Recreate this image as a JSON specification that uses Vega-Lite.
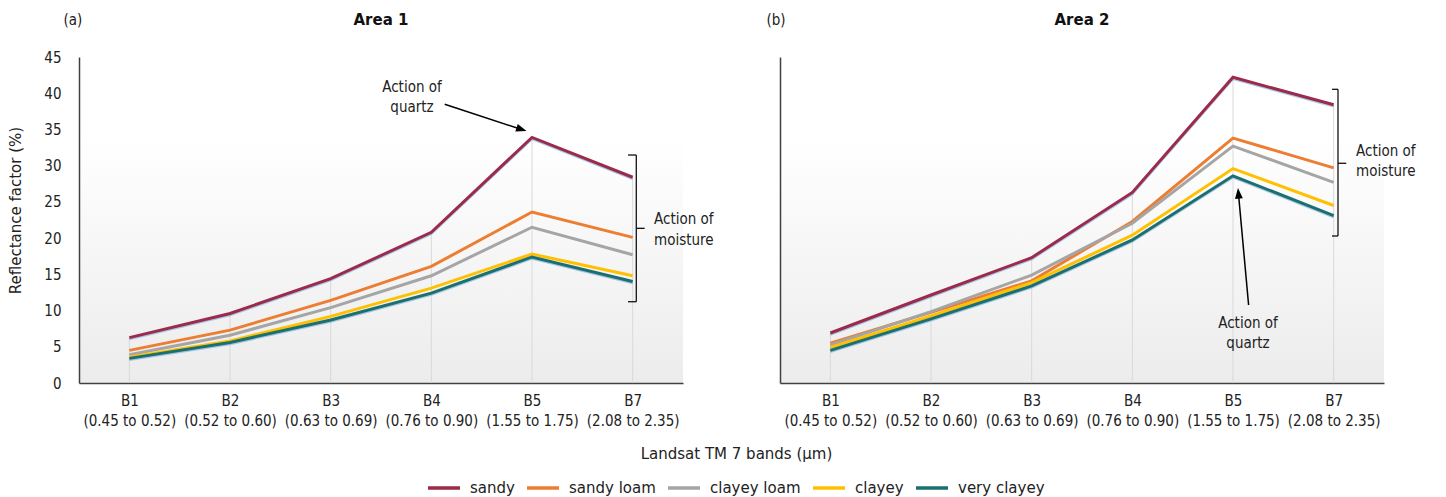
{
  "$schema": "https://vega.github.io/schema/vega-lite/v6.json",
  "background": "white",
  "padding": {"left": 8, "top": 12, "right": 5, "bottom": 5},
  "datasets": {
    "soil": [
      {"area": "Area 1", "soil": "sandy", "bi": 0, "value": 6.26},
      {"area": "Area 1", "soil": "sandy", "bi": 1, "value": 9.6},
      {"area": "Area 1", "soil": "sandy", "bi": 2, "value": 14.4},
      {"area": "Area 1", "soil": "sandy", "bi": 3, "value": 20.8},
      {"area": "Area 1", "soil": "sandy", "bi": 4, "value": 33.9},
      {"area": "Area 1", "soil": "sandy", "bi": 5, "value": 28.4},
      {"area": "Area 1", "soil": "sandy loam", "bi": 0, "value": 4.5},
      {"area": "Area 1", "soil": "sandy loam", "bi": 1, "value": 7.3},
      {"area": "Area 1", "soil": "sandy loam", "bi": 2, "value": 11.4},
      {"area": "Area 1", "soil": "sandy loam", "bi": 3, "value": 16.1},
      {"area": "Area 1", "soil": "sandy loam", "bi": 4, "value": 23.6},
      {"area": "Area 1", "soil": "sandy loam", "bi": 5, "value": 20.1},
      {"area": "Area 1", "soil": "clayey loam", "bi": 0, "value": 3.9},
      {"area": "Area 1", "soil": "clayey loam", "bi": 1, "value": 6.6},
      {"area": "Area 1", "soil": "clayey loam", "bi": 2, "value": 10.4},
      {"area": "Area 1", "soil": "clayey loam", "bi": 3, "value": 14.8},
      {"area": "Area 1", "soil": "clayey loam", "bi": 4, "value": 21.5},
      {"area": "Area 1", "soil": "clayey loam", "bi": 5, "value": 17.7},
      {"area": "Area 1", "soil": "clayey", "bi": 0, "value": 3.55},
      {"area": "Area 1", "soil": "clayey", "bi": 1, "value": 5.8},
      {"area": "Area 1", "soil": "clayey", "bi": 2, "value": 9.2},
      {"area": "Area 1", "soil": "clayey", "bi": 3, "value": 13.1},
      {"area": "Area 1", "soil": "clayey", "bi": 4, "value": 17.8},
      {"area": "Area 1", "soil": "clayey", "bi": 5, "value": 14.8},
      {"area": "Area 1", "soil": "very clayey", "bi": 0, "value": 3.4},
      {"area": "Area 1", "soil": "very clayey", "bi": 1, "value": 5.6},
      {"area": "Area 1", "soil": "very clayey", "bi": 2, "value": 8.7},
      {"area": "Area 1", "soil": "very clayey", "bi": 3, "value": 12.4},
      {"area": "Area 1", "soil": "very clayey", "bi": 4, "value": 17.4},
      {"area": "Area 1", "soil": "very clayey", "bi": 5, "value": 14.0},
      {"area": "Area 2", "soil": "sandy", "bi": 0, "value": 6.9},
      {"area": "Area 2", "soil": "sandy", "bi": 1, "value": 12.15},
      {"area": "Area 2", "soil": "sandy", "bi": 2, "value": 17.3},
      {"area": "Area 2", "soil": "sandy", "bi": 3, "value": 26.3},
      {"area": "Area 2", "soil": "sandy", "bi": 4, "value": 42.2},
      {"area": "Area 2", "soil": "sandy", "bi": 5, "value": 38.4},
      {"area": "Area 2", "soil": "sandy loam", "bi": 0, "value": 5.5},
      {"area": "Area 2", "soil": "sandy loam", "bi": 1, "value": 9.75},
      {"area": "Area 2", "soil": "sandy loam", "bi": 2, "value": 14.1},
      {"area": "Area 2", "soil": "sandy loam", "bi": 3, "value": 22.3},
      {"area": "Area 2", "soil": "sandy loam", "bi": 4, "value": 33.8},
      {"area": "Area 2", "soil": "sandy loam", "bi": 5, "value": 29.7},
      {"area": "Area 2", "soil": "clayey loam", "bi": 0, "value": 5.25},
      {"area": "Area 2", "soil": "clayey loam", "bi": 1, "value": 9.85},
      {"area": "Area 2", "soil": "clayey loam", "bi": 2, "value": 14.9},
      {"area": "Area 2", "soil": "clayey loam", "bi": 3, "value": 22.05},
      {"area": "Area 2", "soil": "clayey loam", "bi": 4, "value": 32.7},
      {"area": "Area 2", "soil": "clayey loam", "bi": 5, "value": 27.7},
      {"area": "Area 2", "soil": "clayey", "bi": 0, "value": 4.9},
      {"area": "Area 2", "soil": "clayey", "bi": 1, "value": 9.25},
      {"area": "Area 2", "soil": "clayey", "bi": 2, "value": 13.85},
      {"area": "Area 2", "soil": "clayey", "bi": 3, "value": 20.4},
      {"area": "Area 2", "soil": "clayey", "bi": 4, "value": 29.6},
      {"area": "Area 2", "soil": "clayey", "bi": 5, "value": 24.5},
      {"area": "Area 2", "soil": "very clayey", "bi": 0, "value": 4.5},
      {"area": "Area 2", "soil": "very clayey", "bi": 1, "value": 8.85},
      {"area": "Area 2", "soil": "very clayey", "bi": 2, "value": 13.4},
      {"area": "Area 2", "soil": "very clayey", "bi": 3, "value": 19.75},
      {"area": "Area 2", "soil": "very clayey", "bi": 4, "value": 28.6},
      {"area": "Area 2", "soil": "very clayey", "bi": 5, "value": 23.1}
    ],
    "ann": [
      {"area": "Area 1", "kind": "bracket", "bi": 5.036, "value": 31.47, "bi2": 5.036, "value2": 11.22},
      {"area": "Area 1", "kind": "bracket", "bi": 4.954, "value": 31.47, "bi2": 5.036, "value2": 31.47},
      {"area": "Area 1", "kind": "bracket", "bi": 4.954, "value": 11.22, "bi2": 5.036, "value2": 11.22},
      {"area": "Area 1", "kind": "bracket", "bi": 5.036, "value": 21.35, "bi2": 5.119, "value2": 21.35},
      {"area": "Area 2", "kind": "bracket", "bi": 5.043, "value": 40.54, "bi2": 5.043, "value2": 20.29},
      {"area": "Area 2", "kind": "bracket", "bi": 4.983, "value": 40.54, "bi2": 5.043, "value2": 40.54},
      {"area": "Area 2", "kind": "bracket", "bi": 4.983, "value": 20.29, "bi2": 5.043, "value2": 20.29},
      {"area": "Area 2", "kind": "bracket", "bi": 5.043, "value": 30.33, "bi2": 5.125, "value2": 30.33},
      {"area": "Area 1", "kind": "arrow", "bi": 3.133, "value": 38.47, "bi2": 3.896, "value2": 35.0},
      {"area": "Area 2", "kind": "arrow", "bi": 4.155, "value": 10.76, "bi2": 4.054, "value2": 26.18}
    ],
    "notes": [
      {"area": "Area 1", "kind": "quartz", "text": "Action of\nquartz", "bi": 2.808, "value": 40.86},
      {"area": "Area 1", "kind": "moisture", "text": "Action of\nmoisture", "bi": 5.212, "value": 22.64},
      {"area": "Area 2", "kind": "quartz", "text": "Action of\nquartz", "bi": 4.149, "value": 8.24},
      {"area": "Area 2", "kind": "moisture", "text": "Action of\nmoisture", "bi": 5.222, "value": 32.02},
      {"area": "Area 1", "kind": "tag", "text": "(a)", "bi": -0.56, "value": 50.11},
      {"area": "Area 2", "kind": "tag", "text": "(b)", "bi": -0.54, "value": 50.11},
      {"area": "Area 1", "kind": "title", "text": "Area 1", "bi": 2.5, "value": 50.11},
      {"area": "Area 2", "kind": "title", "text": "Area 2", "bi": 2.5, "value": 50.11}
    ]
  },
  "hconcat": [
    {
      "width": 604,
      "height": 326,
      "layer": [
        {
          "data": {"name": "soil"},
          "transform": [{"filter": "datum.area === 'Area 1'"}],
          "mark": {"type": "rule", "color": "#d9d9d9", "strokeWidth": 1},
          "encoding": {
            "x": {"field": "bi", "type": "quantitative", "scale": {"domain": [-0.5, 5.5], "nice": false, "zero": false},
              "axis": {"values": [0, 1, 2, 3, 4, 5], "labelExpr": "[['B1','(0.45 to 0.52)'],['B2','(0.52 to 0.60)'],['B3','(0.63 to 0.69)'],['B4','(0.76 to 0.90)'],['B5','(1.55 to 1.75)'],['B7','(2.08 to 2.35)']][datum.value]", "title": "Landsat TM 7 bands (µm)", "titleX": 657, "titleY": 70, "titleBaseline": "middle"}},
            "y": {"field": "value", "aggregate": "max", "type": "quantitative", "scale": {"domain": [0, 45], "nice": false},
              "axis": {"values": [0, 5, 10, 15, 20, 25, 30, 35, 40, 45], "tickCount": 10, "labelOverlap": false, "title": "Reflectance factor (%)", "titleY": 153}},
            "y2": {"datum": 0}
          }
        },
        {
          "data": {"name": "soil"},
          "transform": [{"filter": "datum.area === 'Area 1' && (datum.soil === 'sandy' || datum.soil === 'very clayey')"}],
          "mark": {"type": "line", "color": "#6fa8dc", "strokeWidth": 2.5, "yOffset": 1.5, "opacity": 0.6},
          "encoding": {
            "x": {"field": "bi", "type": "quantitative"},
            "y": {"field": "value", "type": "quantitative"},
            "detail": {"field": "soil", "type": "nominal"}
          }
        },
        {
          "data": {"name": "soil"},
          "transform": [{"filter": "datum.area === 'Area 1'"}],
          "mark": {"type": "line", "strokeWidth": 3},
          "encoding": {
            "x": {"field": "bi", "type": "quantitative"},
            "y": {"field": "value", "type": "quantitative"},
            "color": {"field": "soil", "type": "nominal",
              "scale": {"domain": ["sandy", "sandy loam", "clayey loam", "clayey", "very clayey"], "range": ["#9c2a4a", "#ed7d31", "#a5a5a5", "#ffc000", "#1b6f6e"]},
              "legend": {"title": null}}
          }
        },
        {
          "data": {"name": "ann"},
          "transform": [{"filter": "datum.area === 'Area 1' && datum.kind === 'bracket'"}],
          "mark": {"type": "rule", "color": "#111111", "strokeWidth": 1.3},
          "encoding": {
            "x": {"field": "bi", "type": "quantitative"},
            "x2": {"field": "bi2"},
            "y": {"field": "value", "type": "quantitative"},
            "y2": {"field": "value2"}
          }
        },
        {
          "data": {"name": "ann"},
          "transform": [{"filter": "datum.area === 'Area 1' && datum.kind === 'arrow'"}],
          "mark": {"type": "rule", "color": "#000000", "strokeWidth": 1.5},
          "encoding": {
            "x": {"field": "bi", "type": "quantitative"},
            "x2": {"field": "bi2"},
            "y": {"field": "value", "type": "quantitative"},
            "y2": {"field": "value2"}
          }
        },
        {
          "data": {"name": "ann"},
          "transform": [{"filter": "datum.area === 'Area 1' && datum.kind === 'arrow'"}],
          "mark": {"type": "point", "shape": "M0,-1L0.75,1L-0.75,1Z", "filled": true, "color": "#000000", "opacity": 1, "size": 110, "angle": 108},
          "encoding": {
            "x": {"field": "bi2", "type": "quantitative"},
            "y": {"field": "value2", "type": "quantitative"}
          }
        },
        {
          "data": {"name": "notes"},
          "transform": [{"filter": "datum.area === 'Area 1' && (datum.kind === 'quartz' || datum.kind === 'tag')"}],
          "mark": {"type": "text", "align": "center", "baseline": "middle", "lineBreak": "\n", "lineHeight": 20, "fontSize": 15, "font": "DejaVu Sans Condensed", "color": "#222222"},
          "encoding": {
            "x": {"field": "bi", "type": "quantitative"},
            "y": {"field": "value", "type": "quantitative"},
            "text": {"field": "text"}
          }
        },
        {
          "data": {"name": "notes"},
          "transform": [{"filter": "datum.area === 'Area 1' && datum.kind === 'moisture'"}],
          "mark": {"type": "text", "align": "left", "baseline": "middle", "lineBreak": "\n", "lineHeight": 21, "fontSize": 15, "font": "DejaVu Sans Condensed", "color": "#222222"},
          "encoding": {
            "x": {"field": "bi", "type": "quantitative"},
            "y": {"field": "value", "type": "quantitative"},
            "text": {"field": "text"}
          }
        },
        {
          "data": {"name": "notes"},
          "transform": [{"filter": "datum.area === 'Area 1' && datum.kind === 'title'"}],
          "mark": {"type": "text", "align": "center", "baseline": "middle", "fontSize": 15, "fontWeight": "bold", "font": "DejaVu Sans", "color": "#111111"},
          "encoding": {
            "x": {"field": "bi", "type": "quantitative"},
            "y": {"field": "value", "type": "quantitative"},
            "text": {"field": "text"}
          }
        }
      ]
    },
    {
      "width": 604,
      "height": 326,
      "layer": [
        {
          "data": {"name": "soil"},
          "transform": [{"filter": "datum.area === 'Area 2'"}],
          "mark": {"type": "rule", "color": "#d9d9d9", "strokeWidth": 1},
          "encoding": {
            "x": {"field": "bi", "type": "quantitative", "scale": {"domain": [-0.5, 5.5], "nice": false, "zero": false},
              "axis": {"values": [0, 1, 2, 3, 4, 5], "labelExpr": "[['B1','(0.45 to 0.52)'],['B2','(0.52 to 0.60)'],['B3','(0.63 to 0.69)'],['B4','(0.76 to 0.90)'],['B5','(1.55 to 1.75)'],['B7','(2.08 to 2.35)']][datum.value]", "title": null}},
            "y": {"field": "value", "aggregate": "max", "type": "quantitative", "scale": {"domain": [0, 45], "nice": false},
              "axis": {"labels": false, "title": null}},
            "y2": {"datum": 0}
          }
        },
        {
          "data": {"name": "soil"},
          "transform": [{"filter": "datum.area === 'Area 2' && (datum.soil === 'sandy' || datum.soil === 'very clayey')"}],
          "mark": {"type": "line", "color": "#6fa8dc", "strokeWidth": 2.5, "yOffset": 1.5, "opacity": 0.6},
          "encoding": {
            "x": {"field": "bi", "type": "quantitative"},
            "y": {"field": "value", "type": "quantitative"},
            "detail": {"field": "soil", "type": "nominal"}
          }
        },
        {
          "data": {"name": "soil"},
          "transform": [{"filter": "datum.area === 'Area 2'"}],
          "mark": {"type": "line", "strokeWidth": 3},
          "encoding": {
            "x": {"field": "bi", "type": "quantitative"},
            "y": {"field": "value", "type": "quantitative"},
            "color": {"field": "soil", "type": "nominal",
              "scale": {"domain": ["sandy", "sandy loam", "clayey loam", "clayey", "very clayey"], "range": ["#9c2a4a", "#ed7d31", "#a5a5a5", "#ffc000", "#1b6f6e"]},
              "legend": {"title": null}}
          }
        },
        {
          "data": {"name": "ann"},
          "transform": [{"filter": "datum.area === 'Area 2' && datum.kind === 'bracket'"}],
          "mark": {"type": "rule", "color": "#111111", "strokeWidth": 1.3},
          "encoding": {
            "x": {"field": "bi", "type": "quantitative"},
            "x2": {"field": "bi2"},
            "y": {"field": "value", "type": "quantitative"},
            "y2": {"field": "value2"}
          }
        },
        {
          "data": {"name": "ann"},
          "transform": [{"filter": "datum.area === 'Area 2' && datum.kind === 'arrow'"}],
          "mark": {"type": "rule", "color": "#000000", "strokeWidth": 1.5},
          "encoding": {
            "x": {"field": "bi", "type": "quantitative"},
            "x2": {"field": "bi2"},
            "y": {"field": "value", "type": "quantitative"},
            "y2": {"field": "value2"}
          }
        },
        {
          "data": {"name": "ann"},
          "transform": [{"filter": "datum.area === 'Area 2' && datum.kind === 'arrow'"}],
          "mark": {"type": "point", "shape": "M0,-1L0.75,1L-0.75,1Z", "filled": true, "color": "#000000", "opacity": 1, "size": 110, "angle": 355},
          "encoding": {
            "x": {"field": "bi2", "type": "quantitative"},
            "y": {"field": "value2", "type": "quantitative"}
          }
        },
        {
          "data": {"name": "notes"},
          "transform": [{"filter": "datum.area === 'Area 2' && (datum.kind === 'quartz' || datum.kind === 'tag')"}],
          "mark": {"type": "text", "align": "center", "baseline": "middle", "lineBreak": "\n", "lineHeight": 20, "fontSize": 15, "font": "DejaVu Sans Condensed", "color": "#222222"},
          "encoding": {
            "x": {"field": "bi", "type": "quantitative"},
            "y": {"field": "value", "type": "quantitative"},
            "text": {"field": "text"}
          }
        },
        {
          "data": {"name": "notes"},
          "transform": [{"filter": "datum.area === 'Area 2' && datum.kind === 'moisture'"}],
          "mark": {"type": "text", "align": "left", "baseline": "middle", "lineBreak": "\n", "lineHeight": 20, "fontSize": 15, "font": "DejaVu Sans Condensed", "color": "#222222"},
          "encoding": {
            "x": {"field": "bi", "type": "quantitative"},
            "y": {"field": "value", "type": "quantitative"},
            "text": {"field": "text"}
          }
        },
        {
          "data": {"name": "notes"},
          "transform": [{"filter": "datum.area === 'Area 2' && datum.kind === 'title'"}],
          "mark": {"type": "text", "align": "center", "baseline": "middle", "fontSize": 15, "fontWeight": "bold", "font": "DejaVu Sans", "color": "#111111"},
          "encoding": {
            "x": {"field": "bi", "type": "quantitative"},
            "y": {"field": "value", "type": "quantitative"},
            "text": {"field": "text"}
          }
        }
      ]
    }
  ],
  "spacing": 97,
  "bounds": "flush",
  "resolve": {"scale": {"color": "shared"}, "legend": {"color": "shared"}},
  "config": {
    "font": "DejaVu Sans Condensed",
    "view": {"stroke": null, "fill": {"gradient": "linear", "x1": 0, "y1": 0, "x2": 0, "y2": 1, "stops": [{"offset": 0, "color": "#ffffff"}, {"offset": 0.25, "color": "#ffffff"}, {"offset": 1, "color": "#ececec"}]}},
    "axis": {"domainColor": "#404040", "domainWidth": 1.5, "ticks": false, "grid": false, "labelFont": "DejaVu Sans Condensed", "labelFontSize": 15, "labelColor": "#222222", "titleFont": "DejaVu Sans", "titleFontSize": 15, "titleFontWeight": "normal", "titleColor": "#222222"},
    "axisX": {"labelPadding": 10, "labelLineHeight": 20, "labelOverlap": false, "labelFlush": false, "labelBound": false},
    "axisY": {"labelPadding": 18, "titlePadding": 20, "labelOverlap": false, "tickCount": 10},
    "legend": {"orient": "none", "legendX": 347, "legendY": 413, "direction": "horizontal", "symbolType": "stroke", "symbolSize": 1024, "symbolStrokeWidth": 3.5, "labelFont": "DejaVu Sans", "labelFontSize": 15, "labelColor": "#222222", "labelOffset": 8, "columnPadding": 5}
  }
}
